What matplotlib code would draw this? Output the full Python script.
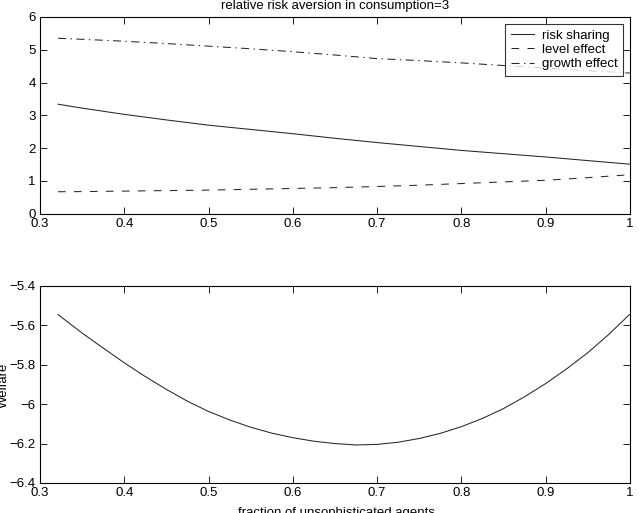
import matplotlib
matplotlib.use("Agg")
import matplotlib.pyplot as plt
from matplotlib.ticker import FixedLocator, FixedFormatter

plt.rcParams['font.family'] = ['Liberation Sans', 'DejaVu Sans']
plt.rcParams['font.size'] = 9.5
plt.rcParams['lines.scale_dashes'] = False
plt.rcParams['axes.unicode_minus'] = True

# ---- data ----
frac = [0.3214, 0.35, 0.4, 0.45, 0.5, 0.55, 0.6, 0.65, 0.7, 0.75, 0.8, 0.85, 0.9, 0.95, 1.0]
risk_sharing = [3.34, 3.22, 3.03, 2.86, 2.70, 2.57, 2.44, 2.30, 2.17, 2.05, 1.93, 1.83, 1.73, 1.62, 1.51]
level_effect = [0.67, 0.675, 0.69, 0.705, 0.72, 0.745, 0.77, 0.795, 0.83, 0.87, 0.92, 0.97, 1.02, 1.10, 1.19]
growth_effect = [5.35, 5.32, 5.26, 5.19, 5.11, 5.03, 4.94, 4.84, 4.73, 4.67, 4.60, 4.52, 4.44, 4.36, 4.29]

frac_w = [0.3214, 0.35, 0.375, 0.4, 0.425, 0.45, 0.475, 0.5, 0.525, 0.55, 0.575, 0.6,
          0.625, 0.65, 0.675, 0.7, 0.725, 0.75, 0.775, 0.8, 0.825, 0.85, 0.875, 0.9,
          0.925, 0.95, 0.975, 1.0]
welfare = [-5.545, -5.639, -5.715, -5.790, -5.860, -5.925, -5.985, -6.037, -6.080, -6.117,
           -6.147, -6.170, -6.188, -6.200, -6.207, -6.204, -6.193, -6.174, -6.148, -6.114,
           -6.072, -6.022, -5.962, -5.895, -5.820, -5.738, -5.645, -5.542]

xticks = [0.3, 0.4, 0.5, 0.6, 0.7, 0.8, 0.9, 1.0]
xticklabels = ['0.3', '0.4', '0.5', '0.6', '0.7', '0.8', '0.9', '1']
yticks_top = [0, 1, 2, 3, 4, 5, 6]
yticks_bot = [-6.4, -6.2, -6.0, -5.8, -5.6, -5.4]
yticklabels_bot = ['\u22126.4', '\u22126.2', '\u22126', '\u22125.8', '\u22125.6', '\u22125.4']

title_text = 'relative risk aversion in consumption=3'
xlabel_text = 'fraction of unsophisticated agents'
ylabel_text = 'Welfare'
legend_labels = ['risk sharing', 'level effect', 'growth effect']

fig = plt.figure(figsize=(6.39, 5.13), dpi=100)
ax1 = fig.add_axes([0.0626, 0.5834, 0.9234, 0.3835])
ax2 = fig.add_axes([0.0626, 0.0585, 0.9234, 0.3840])

lc = '#262626'
lw = 0.75
ax1.plot(frac, risk_sharing, color=lc, lw=lw, label=legend_labels[0])
ax1.plot(frac, level_effect, color=lc, lw=lw, dashes=(5.5, 6.0), label=legend_labels[1])
ax1.plot(frac, growth_effect, color=lc, lw=lw, dashes=(5.8, 3.2, 1.0, 3.2), label=legend_labels[2])
ax1.set_xlim(0.3, 1.0)
ax1.set_ylim(0, 6)
ax1.xaxis.set_major_locator(FixedLocator(xticks))
ax1.xaxis.set_major_formatter(FixedFormatter(xticklabels))
ax1.yaxis.set_major_locator(FixedLocator(yticks_top))
leg = ax1.legend(loc='upper right', frameon=True, fancybox=False, borderaxespad=0.5,
                 handlelength=1.7, handletextpad=0.6, borderpad=0.45, labelspacing=0.15,
                 fontsize=9.5)
leg.get_frame().set_edgecolor('black')
leg.get_frame().set_linewidth(0.8)

ax2.plot(frac_w, welfare, color=lc, lw=lw)
ax2.set_xlim(0.3, 1.0)
ax2.set_ylim(-6.4, -5.4)
ax2.xaxis.set_major_locator(FixedLocator(xticks))
ax2.xaxis.set_major_formatter(FixedFormatter(xticklabels))
ax2.yaxis.set_major_locator(FixedLocator(yticks_bot))
ax2.yaxis.set_major_formatter(FixedFormatter(yticklabels_bot))

for ax in (ax1, ax2):
    ax.tick_params(direction='in', length=5, width=0.6, top=True, right=True,
                   labelsize=9.5, pad=3, colors='black')
    for s in ax.spines.values():
        s.set_linewidth(0.8)

fig.text(0.524, 1 - 9 / 513, title_text, ha='center', va='baseline', fontsize=9.5)
fig.text(0.527, 1 - 516 / 513, xlabel_text, ha='center', va='baseline', fontsize=9.5)
fig.text(-0.003, 1 - 385 / 513, ylabel_text, ha='left', va='center', rotation=90, fontsize=9.5)

fig.savefig('out.png', dpi=100)
